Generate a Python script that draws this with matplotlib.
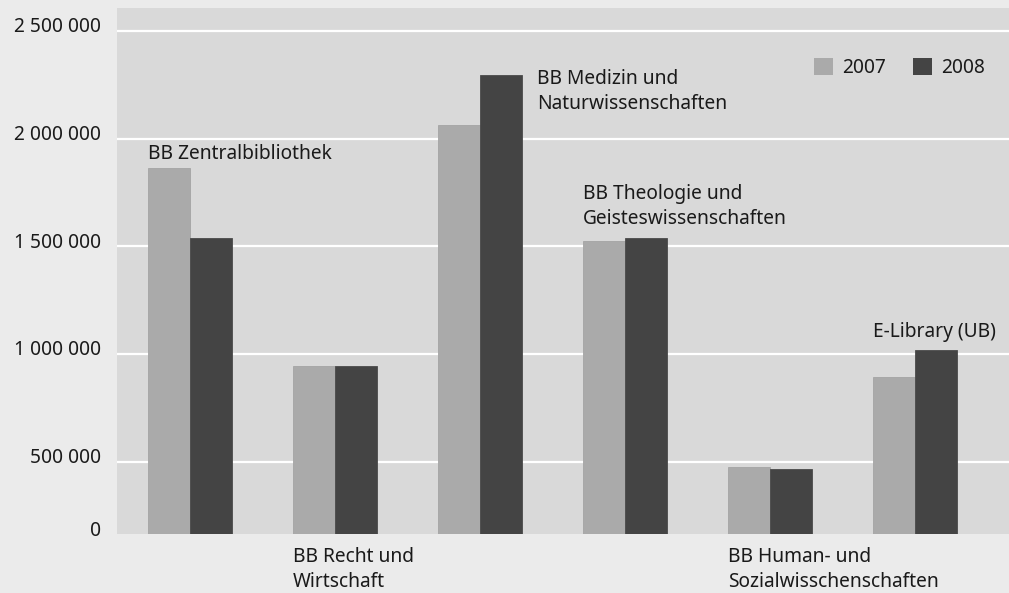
import matplotlib
matplotlib.use("Agg")
import matplotlib.pyplot as plt
import matplotlib.transforms as mtransforms
from matplotlib.patches import Patch
import numpy as np

# ---- data ----
categories = ["BB Zentralbibliothek",
              "BB Recht und\nWirtschaft",
              "BB Medizin und\nNaturwissenschaften",
              "BB Theologie und\nGeisteswissenschaften",
              "BB Human- und\nSozialwisschenschaften",
              "E-Library (UB)"]
series_names = ["2007", "2008"]
values_2007 = [1861000, 944000, 2062000, 1523000, 477000, 892000]
values_2008 = [1536000, 944000, 2297000, 1537000, 466000, 1019000]
ytick_values = [500000, 1000000, 1500000, 2000000, 2500000]
ytick_labels = ["500 000", "1 000 000", "1 500 000", "2 000 000", "2 500 000"]
y_bottom = 164000      # axis baseline, labelled "0" in the original
y_top = 2606000
# label placement: 'bar' = above the bar group, 'right' = right of group, 'below' = under axis
label_place = ["bar", "below", "right", "bar", "below", "bar"]
# baseline of the last line of each label (data units for 'bar'/'right')
label_y = [1904000, None, 2137000, 1603000, None, 1080000]

c2007 = "#aaaaaa"
c2008 = "#444444"
panel = "#d9d9d9"
figbg = "#ebebeb"
txt = "#1a1a1a"

plt.rcParams['font.family'] = ['Noto Sans', 'DejaVu Sans']
FS = 13.8
LS = 1.35

fig = plt.figure(figsize=(10.09, 5.93), dpi=100, facecolor=figbg)
ax = fig.add_axes([117 / 1009, (593 - 534) / 593, (1009 - 117) / 1009, 526 / 593])
ax.set_facecolor(panel)

x = np.arange(len(categories))
w = 0.2917
ax.bar(x - w / 2, values_2007, w, color=c2007, edgecolor="#a4a4a4", linewidth=0.6, zorder=3)
ax.bar(x + w / 2, values_2008, w, color=c2008, edgecolor="#4a4a4a", linewidth=0.6, zorder=3)

ax.set_xlim(-0.503, 5.648)
ax.set_ylim(y_bottom, y_top)

for s in ax.spines.values():
    s.set_visible(False)
ax.set_xticks([])
ax.set_yticks([y_bottom] + ytick_values)
ax.set_yticklabels(["0"] + ytick_labels, fontsize=FS, color=txt)
ax.tick_params(axis='y', length=0, pad=11.5)
off = mtransforms.ScaledTranslation(0, 6 / 100, fig.dpi_scale_trans)
for lab in ax.get_yticklabels():
    lab.set_transform(lab.get_transform() + off)

for yv in ytick_values:
    ax.axhline(yv, color="white", lw=1.6, zorder=1)

blend = mtransforms.blended_transform_factory(ax.transData, ax.transAxes)
for i, (name, place) in enumerate(zip(categories, label_place)):
    if place == "bar":
        ax.text(x[i] - w, label_y[i], name, fontsize=FS, color=txt,
                ha="left", va="baseline", linespacing=LS, zorder=4)
    elif place == "right":
        ax.text(x[i] + w + 0.1, label_y[i], name, fontsize=FS, color=txt,
                ha="left", va="baseline", linespacing=LS, zorder=4)
    else:
        ax.text(x[i] - w, -0.1008, name, fontsize=FS, color=txt, transform=blend,
                ha="left", va="baseline", linespacing=LS)

handles = [Patch(facecolor=c2007), Patch(facecolor=c2008)]
ax.legend(handles, series_names, ncol=2, loc="upper left",
          bbox_to_anchor=((814 - 117) / 892, (534 - 58) / 526),
          frameon=False, fontsize=FS, handlelength=0.975, handleheight=0.975,
          handletextpad=0.5, columnspacing=1.4, borderaxespad=0, borderpad=0,
          labelcolor=txt)

fig.savefig("out.png", dpi=100, facecolor=figbg)
